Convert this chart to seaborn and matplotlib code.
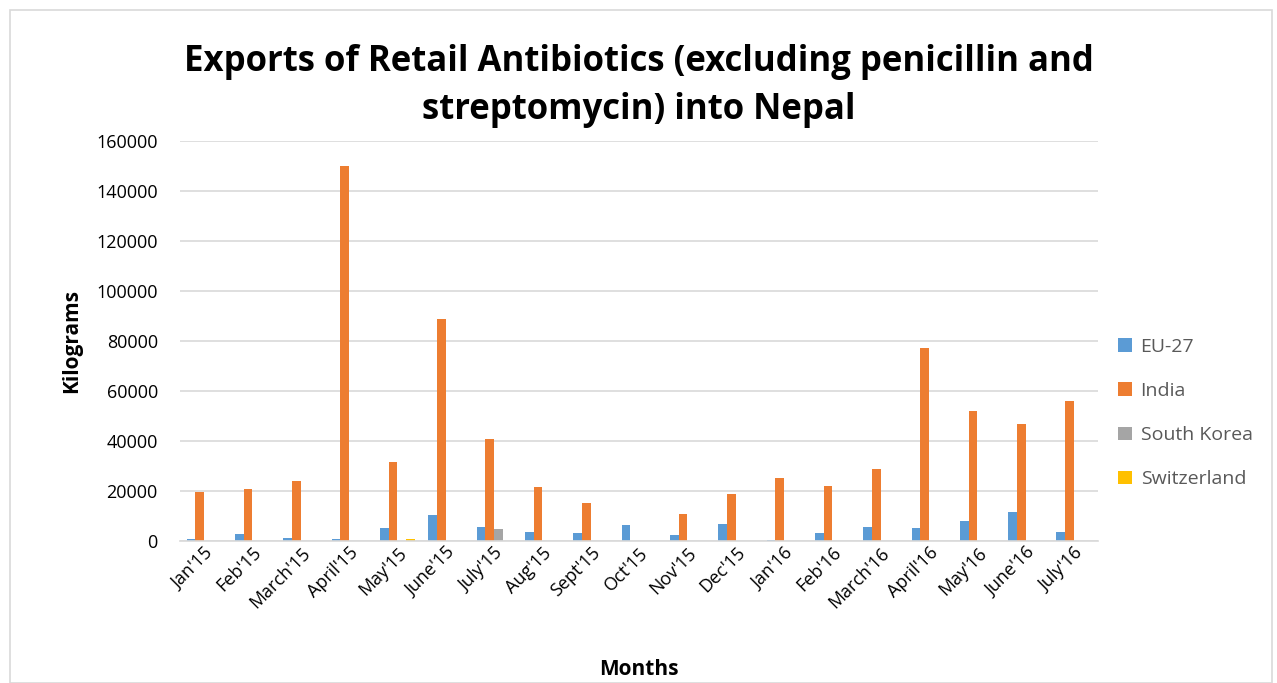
import matplotlib.pyplot as plt
import pandas as pd
import seaborn as sns
from matplotlib.patches import Rectangle

months = ["Jan'15", "Feb'15", "March'15", "April'15", "May'15", "June'15",
          "July'15", "Aug'15", "Sept'15", "Oct'15", "Nov'15", "Dec'15",
          "Jan'16", "Feb'16", "March'16", "April'16", "May'16", "June'16",
          "July'16"]
eu27 = [1000, 3000, 1400, 700, 5300, 10300, 5800, 3500, 3100, 6600,
        2400, 6900, 300, 3200, 5700, 5400, 8200, 11500, 3800]
india = [19700, 20700, 23900, 150000, 31500, 89000, 41000, 21600, 15400, 0,
         10900, 18800, 25100, 21900, 28900, 77300, 52000, 46800, 56000]
south_korea = [0, 0, 0, 0, 0, 0, 4900, 0, 0, 0,
               0, 0, 0, 0, 0, 0, 200, 0, 0]
switzerland = [0, 0, 0, 0, 1000, 0, 0, 0, 0, 0,
               0, 0, 0, 0, 0, 0, 0, 0, 0]

series = {"EU-27": eu27, "India": india,
          "South Korea": south_korea, "Switzerland": switzerland}
colors = ["#5b9bd5", "#ed7d31", "#a5a5a5", "#ffc000"]

df = pd.DataFrame([
    {"month": m, "country": c, "kg": v}
    for c, vals in series.items() for m, v in zip(months, vals)
])

sns.set_theme(style="white")
plt.rcParams["font.family"] = ["Open Sans", "DejaVu Sans"]

fig = plt.figure(figsize=(12.77, 6.83), dpi=100)
# plot area in pixels: x 180..1098, y 141..541
ax = fig.add_axes([180 / 1277, 1 - 541 / 683, 918 / 1277, 400 / 683])

sns.barplot(data=df, x="month", y="kg", hue="country", order=months,
            hue_order=list(series), palette=colors, width=0.72, gap=0,
            saturation=1, ax=ax, edgecolor="none")

ax.set_ylim(0, 160000)
ax.set_xlim(-0.5, len(months) - 0.5)
ax.set_yticks(range(0, 160001, 20000))
ax.yaxis.grid(True, color="#d9d9d9", linewidth=1.2)
ax.set_axisbelow(True)
for s in ["top", "right", "left"]:
    ax.spines[s].set_visible(False)
ax.spines["bottom"].set_color("#d9d9d9")
ax.spines["bottom"].set_linewidth(1.2)
ax.tick_params(axis="y", labelsize=13, colors="black", length=0, pad=16)
ax.tick_params(axis="x", labelsize=13, colors="black", length=0, pad=2)
plt.setp(ax.get_xticklabels(), rotation=45, ha="right", rotation_mode="anchor")

ax.set_xlabel("Months", fontsize=15, fontweight="bold", labelpad=34, color="black")
ax.set_ylabel("Kilograms", fontsize=15, fontweight="bold", labelpad=10, color="black")

ax.legend(loc="center left", bbox_to_anchor=(1.003, 0.32), frameon=False,
          fontsize=14, handlelength=0.7, handleheight=0.7, labelspacing=1.35,
          handletextpad=0.45, labelcolor="#595959")

fig.text(0.5, 1 - 62 / 683, "Exports of Retail Antibiotics (excluding penicillin and",
         ha="center", va="center", fontsize=25, fontweight="bold", color="black")
fig.text(0.5, 1 - 110 / 683, "streptomycin) into Nepal",
         ha="center", va="center", fontsize=25, fontweight="bold", color="black")

fig.patches.append(Rectangle((10 / 1277, 0), 1262 / 1277, 673 / 683,
                             transform=fig.transFigure, fill=False,
                             edgecolor="#d9d9d9", linewidth=1.2))

fig.savefig("out.png", dpi=100)
